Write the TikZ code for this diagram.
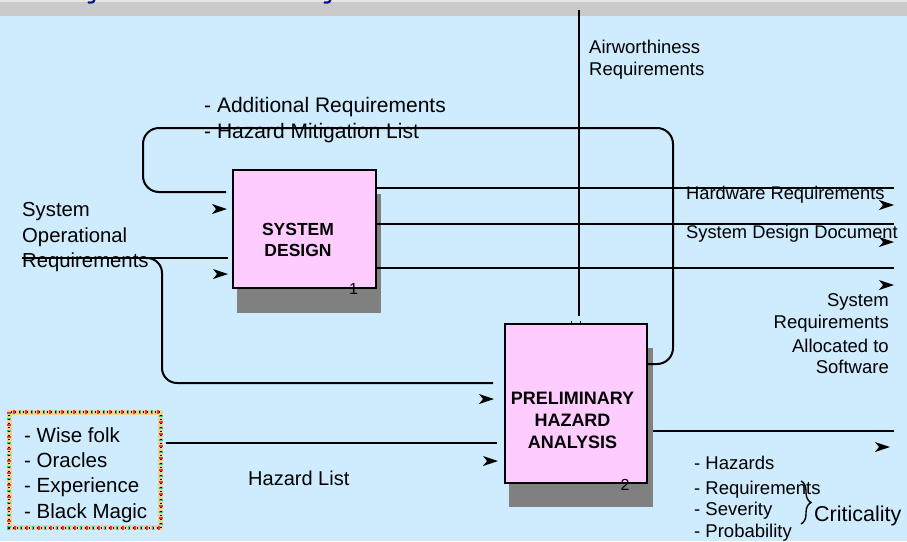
\documentclass[tikz,border=0pt]{standalone}
\usepackage{fontspec}
\setmainfont{Liberation Sans}
\usetikzlibrary{calc,decorations.pathreplacing}

\definecolor{sky}{HTML}{CFEBFE}
\definecolor{band}{HTML}{CACACA}
\definecolor{bandlight}{HTML}{E6E6E6}
\definecolor{boxpink}{HTML}{FFCCFF}
\definecolor{shade}{HTML}{808080}
\definecolor{titleblue}{HTML}{10108C}
\definecolor{framesand}{HTML}{F2D28C}
\definecolor{framered}{HTML}{E23C3C}
\definecolor{framecyan}{HTML}{22C6C6}

\newcommand\setfs[2]{\fontsize{#1}{#2}\selectfont}

\tikzset{
  flow/.style={line width=2pt, line cap=butt},
  actbox/.style={draw, line width=2pt, fill=boxpink, inner sep=0pt},
  shadowbox/.style={fill=shade, inner sep=0pt, draw=none},
  lbl/.style={anchor=base west, inner sep=0pt, text=black},
  lblr/.style={anchor=base east, inner sep=0pt, text=black},
  arrowtip/.pic={\fill (0,0) -- (-15,-5) -- (-11,0) -- (-15,5) -- cycle;}
}

\begin{document}
\begin{tikzpicture}[x=1pt,y=-1pt]
\useasboundingbox (0,0) rectangle (907,541);

% background and header band
\fill[sky] (0,0) rectangle (907,541);
\fill[bandlight] (0,0) rectangle (907,1.5);
\fill[band] (0,1.5) rectangle (907,16);
\draw[titleblue, line width=2.2pt, line cap=round] (94.5,0) .. controls (93.5,2.4) .. (88.5,2.6);
\draw[titleblue, line width=2.2pt, line cap=round] (330.5,0) .. controls (329.5,2.4) .. (324.5,2.6);

% shadows and activity boxes
\node[shadowbox, minimum width=144pt, minimum height=119pt] (sdsh) at (309,253.5) {};
\node[actbox, minimum width=143pt, minimum height=118pt] (sd) at (304.5,229) {};
\node[shadowbox, minimum width=144pt, minimum height=159pt] (phash) at (581,427.5) {};
\node[actbox, minimum width=142pt, minimum height=159pt] (pha) at (576,403.5) {};

\node[align=center, inner sep=0pt, font=\bfseries\setfs{17.5}{21}] (sdl) at (298,240) {SYSTEM\\DESIGN};
\node[align=center, inner sep=0pt, font=\bfseries\setfs{18}{22}] (phal) at (572.5,420) {PRELIMINARY\\HAZARD\\ANALYSIS};
\node[lbl, font=\setfs{16}{18}] (sdnum) at (349,294.5) {1};
\node[lbl, font=\setfs{16}{18}] (phanum) at (620.5,490.5) {2};

% text labels
\node[lbl, font=\setfs{20.3}{25}] (sor1) at (22,216) {System};
\node[lbl, font=\setfs{20.3}{25}] (sor2) at (22,242) {Operational};
\node[lbl, font=\setfs{20.3}{25}] (sor3) at (22,267) {Requirements};

\node[lbl, font=\setfs{21}{26}] (add1) at (204,112) {- Additional Requirements};
\node[lbl, font=\setfs{21}{26}] (add2) at (204,138) {- Hazard Mitigation List};

\node[lbl, font=\setfs{18.5}{22}] (aw1) at (589,53) {Airworthiness};
\node[lbl, font=\setfs{18.5}{22}] (aw2) at (589,75) {Requirements};

\node[lbl, font=\setfs{18.3}{22}] (hw) at (686,199) {Hardware Requirements};
\node[lbl, font=\setfs{18.3}{22}] (sdd) at (686,238) {System Design Document};

\node[lblr, font=\setfs{18.5}{22}] (sra1) at (889,306) {System};
\node[lblr, font=\setfs{18.5}{22}] (sra2) at (889,328) {Requirements};
\node[lblr, font=\setfs{18.5}{22}] (sra3) at (889,352) {Allocated to};
\node[lblr, font=\setfs{18.5}{22}] (sra4) at (889,373) {Software};

\node[lbl, font=\setfs{18.5}{22}] (po1) at (694,469) {- Hazards};
\node[lbl, font=\setfs{18.5}{22}] (po2) at (694,494) {- Requirements};
\node[lbl, font=\setfs{18.5}{22}] (po3) at (694,515) {- Severity};
\node[lbl, font=\setfs{18.5}{22}] (po4) at (694,537) {- Probability};
\draw[line width=1.4pt, decorate, decoration={brace, amplitude=10pt}] (801,481) -- (801,524);
\node[lbl, font=\setfs{21.5}{26}] (crit) at (814,521) {Criticality};

\node[lbl, font=\setfs{20}{24}] (hzl) at (248,485) {Hazard List};

% source box with patterned frame
\node[minimum width=151pt, minimum height=115pt, inner sep=0pt] (src) at (85,470) {};
\draw[framesand, line width=5pt] (src.north west) rectangle (src.south east);
\draw[framered, line width=4pt, dash pattern=on 2pt off 10pt] (src.north west) rectangle (src.south east);
\draw[framecyan, line width=4pt, dash pattern=on 2pt off 10pt, dash phase=6pt] (src.north west) rectangle (src.south east);
\draw[black, line width=2pt, dash pattern=on 1pt off 3pt, dash phase=1pt] (src.north west) rectangle (src.south east);
\node[lbl, font=\setfs{20.5}{25}] (w1) at (24,442) {- Wise folk};
\node[lbl, font=\setfs{20.5}{25}] (w2) at (24,467) {- Oracles};
\node[lbl, font=\setfs{20.5}{25}] (w3) at (24,492) {- Experience};
\node[lbl, font=\setfs{20.5}{25}] (w4) at (24,518) {- Black Magic};

% free ends of the connectors
\coordinate (awTop) at (579,10);
\coordinate (out1) at (894,188);
\coordinate (out2) at (894,224);
\coordinate (out3) at (894,268);
\coordinate (out4) at (894,431);
\coordinate (fbRight) at (673,128);
\coordinate (fbLeft) at (143,192);
\coordinate (sorStart) at (22,258);
\coordinate (sorBranch) at (146,258);
\coordinate (sorBend) at (162,383);

% mechanism / control from the top
\draw[flow] (awTop) -- ($(awTop |- pha.north)+(0,-7)$);
\draw[line width=0.8pt] (571,320.5) -- (571,323) (580,320.5) -- (580,323);

% feedback loop from PHA back to system design
\draw[flow, rounded corners=16pt] (pha.east |- 0,364) -| (fbRight) -| (fbLeft) -- ($(sd.west |- fbLeft)+(-6,0)$);

% system design outputs
\draw[flow] (sd.east |- out1) -- (out1);
\draw[flow] (sd.east |- out2) -- (out2);
\draw[flow] (sd.east |- out3) -- (out3);

% operational requirements into both activities
\draw[flow] (sorStart) -- ($(sd.west |- sorStart)+(-4,0)$);
\draw[flow, rounded corners=15pt] (sorBranch) -| (sorBend) -- ($(pha.west |- sorBend)+(-11,0)$);

% hazard list into PHA
\draw[flow] ($(src.east |- 0,443)+(5,0)$) -- ($(pha.west |- 0,443)+(-7,0)$);

% PHA output
\draw[flow] (phash.east |- out4) -- (out4);

% arrowheads
\pic at (227,209) {arrowtip};
\pic at (228,274) {arrowtip};
\pic at (494,399) {arrowtip};
\pic at (498,461) {arrowtip};
\pic at (894,205) {arrowtip};
\pic at (894,242) {arrowtip};
\pic at (894,285) {arrowtip};
\pic at (890,447) {arrowtip};
\end{tikzpicture}
\end{document}
